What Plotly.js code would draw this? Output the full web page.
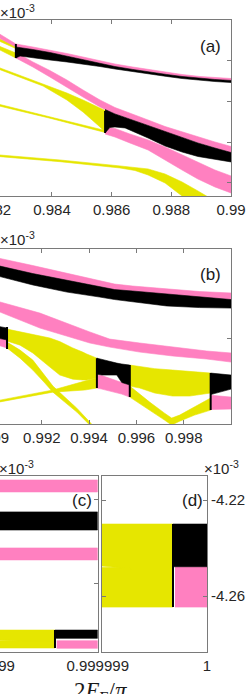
<!DOCTYPE html>
<html><head><meta charset="utf-8">
<script src="https://cdn.plot.ly/plotly-3.0.1.min.js"></script>
<style>
html,body{margin:0;padding:0;overflow:hidden;background:#fff;width:246px;height:694px;}
#chart{position:absolute;left:-80px;top:0;width:326px;height:694px;}
</style></head>
<body><div id="chart"></div>
<script>
// ---------- Panel (a) ----------
const a_x_pinkA = [0.982, 0.98226, 0.98279, 0.98336, 0.98393, 0.9845, 0.98504, 0.98561, 0.98611, 0.98671, 0.98722, 0.98785, 0.98836, 0.98896, 0.98946, 0.99];
const a_top_pinkA = [-4.0117, -4.0172, -4.0294, -4.0331, -4.0368, -4.0411, -4.0454, -4.0503, -4.0540, -4.0577, -4.0607, -4.0644, -4.0669, -4.0693, -4.0706, -4.0718];
const a_bot_pinkA = [-4.0178, -4.0233, -4.0331, -4.0362, -4.0399, -4.0442, -4.0485, -4.0534, -4.0571, -4.0607, -4.0638, -4.0669, -4.0693, -4.0718, -4.0730, -4.0742];

const a_x_blackA = [0.98279, 0.98293, 0.98336, 0.98393, 0.9845, 0.98504, 0.98561, 0.98611, 0.98671, 0.98722, 0.98785, 0.98836, 0.98896, 0.98946, 0.99];
const a_top_blackA = [-4.0331, -4.0337, -4.0362, -4.0399, -4.0442, -4.0485, -4.0534, -4.0571, -4.0607, -4.0638, -4.0669, -4.0693, -4.0718, -4.0730, -4.0742];
const a_bot_blackA = [-4.0466, -4.0442, -4.0460, -4.0491, -4.0515, -4.0540, -4.0571, -4.0601, -4.0632, -4.0663, -4.0693, -4.0718, -4.0742, -4.0755, -4.0767];

const a_x_yel1 = [0.982, 0.98226, 0.98279];
const a_top_yel1 = [-4.0196, -4.0233, -4.0313];
const a_bot_yel1 = [-4.0221, -4.0264, -4.0350];
const a_top_yel2 = [-4.0286, -4.0325, -4.0405];
const a_bot_yel2 = [-4.0321, -4.0368, -4.0466];

const a_x_pinkB = [0.98279, 0.98336, 0.98393, 0.9845, 0.98504, 0.98561, 0.98611, 0.98671, 0.98722, 0.98779, 0.98836, 0.98889, 0.98946, 0.99];
const a_top_pinkB = [-4.0399, -4.0515, -4.0620, -4.0736, -4.0859, -4.0982, -4.1074, -4.1153, -4.1227, -4.1307, -4.1374, -4.1436, -4.1497, -4.1552];
const a_bot_pinkB = [-4.0466, -4.0577, -4.0699, -4.0822, -4.0945, -4.1067, -4.1153, -4.1227, -4.1294, -4.1374, -4.1442, -4.1509, -4.1571, -4.1626];

const a_x_blackB = [0.98578, 0.98594, 0.98611, 0.98645, 0.98678, 0.98722, 0.98779, 0.98836, 0.98889, 0.98946, 0.99];
const a_top_blackB = [-4.1098, -4.1129, -4.1153, -4.1196, -4.1239, -4.1294, -4.1374, -4.1442, -4.1509, -4.1571, -4.1626];
const a_bot_blackB = [-4.1387, -4.1319, -4.1313, -4.1325, -4.1374, -4.1448, -4.1546, -4.1620, -4.1675, -4.1712, -4.1742];

const a_x_pinkC = [0.98578, 0.98611, 0.98661, 0.98722, 0.98779, 0.98836, 0.98889, 0.98946, 0.99];
const a_top_pinkC = [-4.1313, -4.1331, -4.1399, -4.1472, -4.1558, -4.1656, -4.1742, -4.1841, -4.1914];
const a_bot_pinkC = [-4.1399, -4.1436, -4.1509, -4.1595, -4.1718, -4.1841, -4.1951, -4.2049, -4.2123];

const a_x_yel3 = [0.982, 0.98226, 0.9837, 0.9845, 0.98504, 0.98561, 0.98578];
const a_top_yel3 = [-4.0553, -4.0589, -4.0785, -4.0896, -4.0982, -4.1080, -4.1110];
const a_bot_yel3 = [-4.0574, -4.0610, -4.0810, -4.0982, -4.1129, -4.1313, -4.1374];

const a_x_yel4 = [0.982, 0.98226, 0.98393, 0.98578];
const a_top_yel4 = [-4.1014, -4.1037, -4.1184, -4.1356];
const a_bot_yel4 = [-4.1034, -4.1058, -4.1205, -4.1380];

const a_x_yel5 = [0.982, 0.98226, 0.98427, 0.98628, 0.98678, 0.98722, 0.98779, 0.98836, 0.98889, 0.98919, 0.98946];
const a_top_yel5 = [-4.1649, -4.1656, -4.1718, -4.1791, -4.1810, -4.1828, -4.1890, -4.1988, -4.2098, -4.2160, -4.2221];
const a_bot_yel5 = [-4.1669, -4.1677, -4.1739, -4.1816, -4.1847, -4.1902, -4.2000, -4.2160, -4.2282, -4.2356, -4.2429];

const a_jumpX = [0.98279, 0.98578];
const a_jumpTop = [-4.0294, -4.1117];
const a_jumpBot = [-4.0466, -4.1387];

// ---------- Panel (b) ----------
const b_x_top = [0.99, 0.99023, 0.99162, 0.99306, 0.99445, 0.99508, 0.99584, 0.99728, 0.99867, 1.0];
const b_top_pinkT = [-4.2039, -4.2053, -4.2093, -4.2135, -4.2177, -4.2197, -4.2208, -4.2225, -4.2239, -4.2247];
const b_mid_T = [-4.2081, -4.2096, -4.2138, -4.2174, -4.2211, -4.2228, -4.2236, -4.2253, -4.2270, -4.2284];
const b_bot_blackT = [-4.2141, -4.2155, -4.2202, -4.2242, -4.2270, -4.2284, -4.2298, -4.2320, -4.2329, -4.2332];

const b_x_pink2 = [0.99, 0.99023, 0.99192, 0.99403, 0.99487, 0.99614, 0.99753, 0.99897, 1.0];
const b_top_pink2 = [-4.2289, -4.2298, -4.2360, -4.2466, -4.2506, -4.2528, -4.2551, -4.2573, -4.2584];
const b_bot_pink2 = [-4.2342, -4.2354, -4.2444, -4.2528, -4.2551, -4.2579, -4.2601, -4.2618, -4.2635];

const b_x_left = [0.99, 0.99023, 0.99053];
const b_top_blkL = [-4.2430, -4.2436, -4.2444];
const b_bot_blkL = [-4.2497, -4.2503, -4.2511];
const b_bot_pnkL = [-4.2534, -4.2542, -4.2556];

const b_x_yel1 = [0.99053, 0.99108, 0.99162, 0.99234, 0.99276, 0.99306, 0.99331, 0.99373, 0.9939, 0.99433];
const b_top_yel1 = [-4.2450, -4.2466, -4.2483, -4.2500, -4.2520, -4.2540, -4.2556, -4.2579, -4.2590, -4.2613];
const b_bot_yel1 = [-4.2517, -4.2540, -4.2584, -4.2663, -4.2708, -4.2722, -4.2731, -4.2736, -4.2736, -4.2725];

const b_x_yel2 = [0.99053, 0.99108, 0.99162, 0.99213, 0.99247, 0.99297, 0.99348, 0.99395, 0.99411];
const b_top_yel2 = [-4.2523, -4.2568, -4.2624, -4.2708, -4.2770, -4.2832, -4.2894, -4.2961, -4.2984];
const b_bot_yel2 = [-4.2556, -4.2613, -4.2680, -4.2753, -4.2804, -4.2860, -4.2916, -4.2978, -4.3000];

const b_x_yel3 = [0.99, 0.99023, 0.99247, 0.99319, 0.99382, 0.99433];
const b_top_yel3 = [-4.2854, -4.2849, -4.2792, -4.2764, -4.2742, -4.2725];
const b_bot_yel3 = [-4.2864, -4.2859, -4.2804, -4.2798, -4.2792, -4.2781];

const b_x_blk2 = [0.99433, 0.99454, 0.99517, 0.99538, 0.99572];
const b_top_blk2 = [-4.2613, -4.2621, -4.2641, -4.2646, -4.2652];
const b_bot_blk2 = [-4.2703, -4.2708, -4.2708, -4.2750, -4.2764];

const b_x_pnk2b = [0.99433, 0.99454, 0.99538, 0.99572];
const b_top_pnk2b = [-4.2708, -4.2711, -4.2750, -4.2764];
const b_bot_pnk2b = [-4.2781, -4.2787, -4.2815, -4.2832];

const b_x_yel4 = [0.99572, 0.99614, 0.99677, 0.99753, 0.99825, 0.99888, 0.99914];
const b_top_yel4 = [-4.2652, -4.2660, -4.2672, -4.2680, -4.2688, -4.2694, -4.2697];
const b_bot_yel4 = [-4.2770, -4.2781, -4.2809, -4.2826, -4.2826, -4.2815, -4.2809];

const b_x_yel5 = [0.99572, 0.99656, 0.99719, 0.99749, 0.99783, 0.99846, 0.99914];
const b_top_yel5 = [-4.2770, -4.2860, -4.2922, -4.2950, -4.2933, -4.2888, -4.2837];
const b_bot_yel5 = [-4.2832, -4.2905, -4.2961, -4.2989, -4.2967, -4.2933, -4.2905];

const b_x_blk3 = [0.99914, 0.99952, 1.0];
const b_top_blk3 = [-4.2697, -4.2703, -4.2708];
const b_bot_blk3 = [-4.2818, -4.2804, -4.2787];

const b_x_pnk3 = [0.99914, 1.0];
const b_top_pnk3 = [-4.2821, -4.2832];
const b_bot_pnk3 = [-4.2902, -4.2899];

const b_jumpX = [0.99053, 0.99433, 0.99572, 0.99914];
const b_jumpTop = [-4.2438, -4.2613, -4.2652, -4.2697];
const b_jumpBot = [-4.2562, -4.2781, -4.2832, -4.2905];

// ---------- Panel (c) ----------
const c_x_full = [0.9999, 0.999999];
const c_top_pnk1 = [-4.1880, -4.1880];
const c_bot_pnk1 = [-4.1952, -4.1952];
const c_top_blk1 = [-4.2072, -4.2072];
const c_bot_blk1 = [-4.2181, -4.2181];
const c_top_pnk2 = [-4.2289, -4.2289];
const c_bot_pnk2 = [-4.2361, -4.2361];
const c_x_yel = [0.9999, 0.999929, 0.999959];
const c_top_yel1 = [-4.2783, -4.2783, -4.2783];
const c_bot_yel1 = [-4.2840, -4.2850, -4.2850];
const c_top_yel2 = [-4.2846, -4.2843, -4.2843];
const c_bot_yel2 = [-4.2891, -4.2891, -4.2891];
const c_x_blk2 = [0.999959, 0.999999];
const c_top_blk2 = [-4.2783, -4.2783];
const c_bot_blk2 = [-4.2833, -4.2833];
const c_x_pnk3 = [0.9999606, 0.999999];
const c_top_pnk3 = [-4.2847, -4.2847];
const c_bot_pnk3 = [-4.2893, -4.2893];
const c_jumpX = [0.999959];
const c_jumpTop = [-4.2783];
const c_jumpBot = [-4.2891];

// ---------- Panel (d) ----------
const d_x_yel = [0.999999, 0.9999992877, 0.9999996771];
const d_top_yel1 = [-4.2300, -4.2300, -4.2300];
const d_bot_yel1 = [-4.2475, -4.2486, -4.2486];
const d_top_yel2 = [-4.2481, -4.2478, -4.2478];
const d_bot_yel2 = [-4.2646, -4.2646, -4.2646];
const d_x_blk = [0.9999996771, 1.0];
const d_top_blk = [-4.2300, -4.2300];
const d_bot_blk = [-4.2478, -4.2478];
const d_x_pnk = [0.9999996961, 1.0];
const d_top_pnk = [-4.2478, -4.2478];
const d_bot_pnk = [-4.2646, -4.2646];
const d_jumpX = [0.9999996771];
const d_jumpTop = [-4.2300];
const d_jumpBot = [-4.2646];

// ---------- ticks ----------
const a_xticks = [0.982, 0.984, 0.986, 0.988, 0.99];
const a_xlabels = ['0.982', '0.984', '0.986', '0.988', '0.99'];
const b_xticks = [0.99, 0.992, 0.994, 0.996, 0.998];
const b_xlabels = ['0.99', '0.992', '0.994', '0.996', '0.998'];
const c_xticks = [0.9999, 0.999999];
const c_xlabels = ['0.9999', '0.999999'];
const d_xticks = [1];
const d_xlabels = ['1'];
const a_yticks = [-4.2, -4.15, -4.1, -4.05, -4.0];
const b_yticks = [-4.25, -4.2];
const c_yticks = [-4.25, -4.2];
const d_yticks = [-4.26, -4.22];
const d_ylabels = ['-4.26', '-4.22'];
const panelLabels = ['(a)', '(b)', '(c)', '(d)'];

const PINK = '#ff80c0', YEL = '#e6e600', BLK = '#000000';

function band(x, top, bot, color, n) {
  return {type: 'scatter', mode: 'lines',
    x: x.concat(x.slice().reverse()), y: top.concat(bot.slice().reverse()),
    fill: 'toself', fillcolor: color, line: {color: color, width: 0.6},
    xaxis: 'x' + n, yaxis: 'y' + n, hoverinfo: 'skip', showlegend: false};
}
function jumps(xs, tops, bots, n) {
  const x = [], y = [];
  xs.forEach((v, i) => { x.push(v, v, null); y.push(tops[i], bots[i], null); });
  return {type: 'scatter', mode: 'lines', x: x, y: y, line: {color: BLK, width: 2},
    xaxis: 'x' + n, yaxis: 'y' + n, hoverinfo: 'skip', showlegend: false, connectgaps: false};
}

const traces = [
  // (a)
  band(a_x_yel1, a_top_yel1, a_bot_yel1, YEL, ''),
  band(a_x_yel1, a_top_yel2, a_bot_yel2, YEL, ''),
  band(a_x_yel3, a_top_yel3, a_bot_yel3, YEL, ''),
  band(a_x_yel4, a_top_yel4, a_bot_yel4, YEL, ''),
  band(a_x_yel5, a_top_yel5, a_bot_yel5, YEL, ''),
  band(a_x_pinkA, a_top_pinkA, a_bot_pinkA, PINK, ''),
  band(a_x_pinkB, a_top_pinkB, a_bot_pinkB, PINK, ''),
  band(a_x_pinkC, a_top_pinkC, a_bot_pinkC, PINK, ''),
  band(a_x_blackA, a_top_blackA, a_bot_blackA, BLK, ''),
  band(a_x_blackB, a_top_blackB, a_bot_blackB, BLK, ''),
  jumps(a_jumpX, a_jumpTop, a_jumpBot, ''),
  // (b)
  band(b_x_yel1, b_top_yel1, b_bot_yel1, YEL, '2'),
  band(b_x_yel2, b_top_yel2, b_bot_yel2, YEL, '2'),
  band(b_x_yel3, b_top_yel3, b_bot_yel3, YEL, '2'),
  band(b_x_yel4, b_top_yel4, b_bot_yel4, YEL, '2'),
  band(b_x_yel5, b_top_yel5, b_bot_yel5, YEL, '2'),
  band(b_x_top, b_top_pinkT, b_mid_T, PINK, '2'),
  band(b_x_pink2, b_top_pink2, b_bot_pink2, PINK, '2'),
  band(b_x_left, b_bot_blkL, b_bot_pnkL, PINK, '2'),
  band(b_x_pnk2b, b_top_pnk2b, b_bot_pnk2b, PINK, '2'),
  band(b_x_pnk3, b_top_pnk3, b_bot_pnk3, PINK, '2'),
  band(b_x_top, b_mid_T, b_bot_blackT, BLK, '2'),
  band(b_x_left, b_top_blkL, b_bot_blkL, BLK, '2'),
  band(b_x_blk2, b_top_blk2, b_bot_blk2, BLK, '2'),
  band(b_x_blk3, b_top_blk3, b_bot_blk3, BLK, '2'),
  jumps(b_jumpX, b_jumpTop, b_jumpBot, '2'),
  // (c)
  band(c_x_yel, c_top_yel2, c_bot_yel2, YEL, '3'),
  band(c_x_yel, c_top_yel1, c_bot_yel1, YEL, '3'),
  band(c_x_full, c_top_pnk1, c_bot_pnk1, PINK, '3'),
  band(c_x_full, c_top_pnk2, c_bot_pnk2, PINK, '3'),
  band(c_x_pnk3, c_top_pnk3, c_bot_pnk3, PINK, '3'),
  band(c_x_full, c_top_blk1, c_bot_blk1, BLK, '3'),
  band(c_x_blk2, c_top_blk2, c_bot_blk2, BLK, '3'),
  jumps(c_jumpX, c_jumpTop, c_jumpBot, '3'),
  // (d)
  band(d_x_yel, d_top_yel2, d_bot_yel2, YEL, '4'),
  band(d_x_yel, d_top_yel1, d_bot_yel1, YEL, '4'),
  band(d_x_pnk, d_top_pnk, d_bot_pnk, PINK, '4'),
  band(d_x_blk, d_top_blk, d_bot_blk, BLK, '4'),
  jumps(d_jumpX, d_jumpTop, d_jumpBot, '4')
];

const FONT = 'Liberation Sans, Arial, Helvetica, sans-serif';
const base = {showline: true, linecolor: '#7a7a7a', linewidth: 1, mirror: 'ticks',
  ticks: 'inside', ticklen: 4, tickwidth: 1, tickcolor: '#7a7a7a',
  showgrid: false, zeroline: false, tickmode: 'array', fixedrange: true,
  tickfont: {family: FONT, size: 15, color: '#262626'}};

function lbl(text, x, y) {
  return {text: text, xref: 'paper', yref: 'paper', x: x, y: y, xanchor: 'center', yanchor: 'middle',
    showarrow: false, font: {family: FONT, size: 17, color: '#1a1a1a'}};
}
function expo(x, py) {
  return {text: '×10<sup>-3</sup>', xref: 'paper', yref: 'paper', x: x, y: 1 - py / 694,
    xanchor: 'left', yanchor: 'middle', showarrow: false, font: {family: FONT, size: 15, color: '#262626'}};
}

const layout = {
  width: 326, height: 694, margin: {l: 0, r: 0, t: 0, b: 0},
  paper_bgcolor: '#ffffff', plot_bgcolor: '#ffffff', showlegend: false,
  xaxis: Object.assign({}, base, {domain: [0.22178, 0.95399], range: [0.982, 0.99], anchor: 'y', tickvals: a_xticks, ticktext: a_xlabels}),
  yaxis: Object.assign({}, base, {domain: [0.71758, 0.97118], range: [-4.216, -4.0], anchor: 'x', tickvals: a_yticks, showticklabels: false}),
  xaxis2: Object.assign({}, base, {domain: [0.22853, 0.95399], range: [0.99, 1.0], anchor: 'y2', tickvals: b_xticks, ticktext: b_xlabels}),
  yaxis2: Object.assign({}, base, {domain: [0.38905, 0.64121], range: [-4.2983, -4.2], anchor: 'x2', tickvals: b_yticks, showticklabels: false}),
  xaxis3: Object.assign({}, base, {domain: [0.22086, 0.54509], range: [0.9999, 0.999999], anchor: 'y3', tickvals: c_xticks, ticktext: c_xlabels}),
  yaxis3: Object.assign({}, base, {domain: [0.06052, 0.31412], range: [-4.2915, -4.1856], anchor: 'x3', tickvals: c_yticks, showticklabels: false}),
  xaxis4: Object.assign({}, base, {domain: [0.55736, 0.88037], range: [0.999999, 1.0], anchor: 'y4', tickvals: d_xticks, ticktext: d_xlabels}),
  yaxis4: Object.assign({}, base, {domain: [0.06052, 0.31412], range: [-4.2833, -4.21], anchor: 'x4', side: 'right', tickvals: d_yticks, ticktext: d_ylabels}),
  annotations: [
    lbl(panelLabels[0], 0.8911, 1 - 46.5 / 694),
    lbl(panelLabels[1], 0.8911, 1 - 274.5 / 694),
    lbl(panelLabels[2], 0.4969, 1 - 500.5 / 694),
    lbl(panelLabels[3], 0.8344, 1 - 500.5 / 694),
    expo(0.2393, 12),
    expo(0.2393, 239),
    expo(0.2347, 468),
    expo(0.8650, 468),
    {text: '2<i>E</i><sub>F</sub>/<i>π</i>', xref: 'paper', yref: 'paper', x: 0.5552, y: 1 - 676 / 694,
     xanchor: 'center', yanchor: 'top', showarrow: false,
     font: {family: 'Liberation Serif, DejaVu Serif, serif', size: 23, color: '#1a1a1a'}}
  ]
};

Plotly.newPlot('chart', traces, layout, {staticPlot: true, displayModeBar: false});
</script>
</body></html>
